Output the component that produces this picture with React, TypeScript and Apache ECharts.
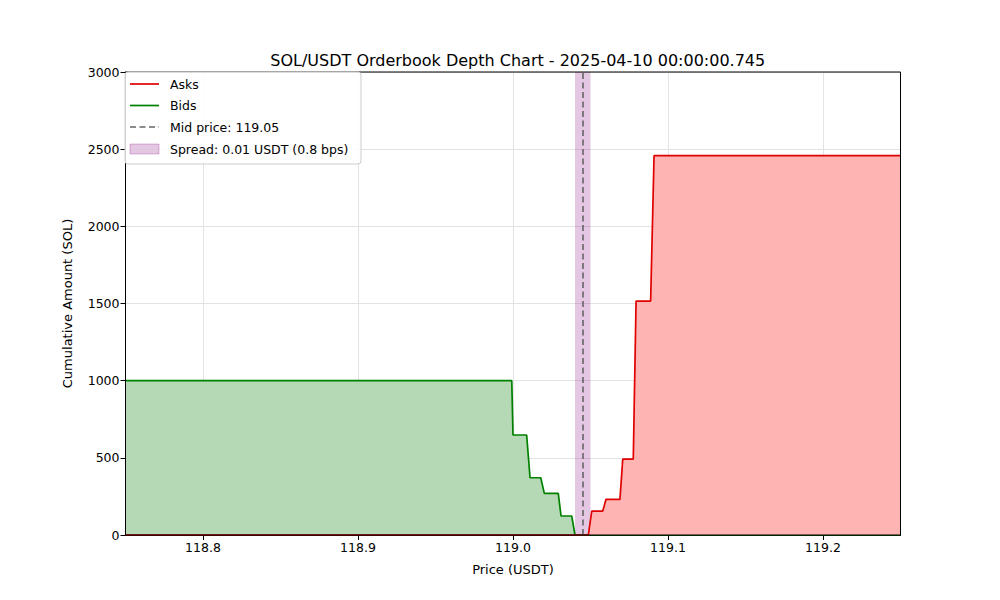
import React, { useEffect, useRef } from "react";
import * as echarts from "echarts";

const bidPrices = [118.75, 118.9992, 119.0, 119.0088, 119.011, 119.0179, 119.0202, 119.0292, 119.031, 119.0379, 119.04, 119.25];
const bidDepth = [1000, 1000, 648, 648, 371, 371, 270, 270, 123, 123, 0, 0];
const askPrices = [118.75, 119.0486, 119.0508, 119.0579, 119.06, 119.069, 119.0708, 119.0776, 119.0794, 119.0888, 119.091, 119.25];
const askDepth = [0, 0, 155, 155, 231, 231, 492, 492, 1516, 1516, 2458, 2458];
const spreadRange = [119.04, 119.05];
const midPrice = 119.045;
const xRange = [118.75, 119.25];
const yRange = [0, 3000];
const legendLabels = ["Asks", "Bids", "Mid price: 119.05", "Spread: 0.01 USDT (0.8 bps)"];
const titleText = "SOL/USDT Orderbook Depth Chart - 2025-04-10 00:00:00.745";

const FONT = "DejaVu Sans";

export default function App() {
  const ref = useRef<HTMLDivElement>(null);
  useEffect(() => {
    if (!ref.current) return;
    const chart = echarts.init(ref.current, null, { renderer: "svg" });
    const bids = bidPrices.map((p, i) => [p, bidDepth[i]]);
    const asks = askPrices.map((p, i) => [p, askDepth[i]]);
    const lx = 130, lx2 = 159, tx = 170;
    const rows = [84, 105.5, 127, 149];
    const Z = 100;
    chart.setOption({
      animation: false,
      backgroundColor: "#fff",
      title: {
        text: titleText,
        left: 512.75,
        textAlign: "center",
        top: 47,
        textStyle: { fontFamily: FONT, fontSize: 16, fontWeight: "normal", color: "#000" },
      },
      grid: { left: 125.5, right: 99.5, top: 72, bottom: 65, show: true, borderColor: "#000", borderWidth: 1, backgroundColor: "transparent", z: 10 },
      xAxis: {
        type: "value",
        min: xRange[0],
        max: xRange[1],
        splitNumber: 5,
        name: "Price (USDT)",
        nameLocation: "middle",
        nameGap: 28,
        nameTextStyle: { fontFamily: FONT, fontSize: 13, color: "#000" },
        axisLine: { show: true, lineStyle: { color: "#000", width: 1 } },
        axisTick: { show: true, inside: false, length: 5, lineStyle: { color: "#000" } },
        axisLabel: { fontFamily: FONT, fontSize: 12.5, color: "#000", margin: 6, showMinLabel: false, showMaxLabel: false, formatter: (v: number) => v.toFixed(1) },
        splitLine: { show: true, lineStyle: { color: "#e3e3e3", width: 1 } },
      },
      yAxis: {
        type: "value",
        min: yRange[0],
        max: yRange[1],
        interval: 500,
        name: "Cumulative Amount (SOL)",
        nameLocation: "middle",
        nameGap: 52,
        nameTextStyle: { fontFamily: FONT, fontSize: 13, color: "#000" },
        axisLine: { show: true, lineStyle: { color: "#000", width: 1 } },
        axisTick: { show: true, inside: false, length: 5, lineStyle: { color: "#000" } },
        axisLabel: { fontFamily: FONT, fontSize: 12.5, color: "#000", margin: 6, formatter: (v: number) => String(v) },
        splitLine: { show: true, lineStyle: { color: "#e3e3e3", width: 1 } },
      },
      series: [
        {
          name: "Bids",
          type: "line",
          data: bids,
          symbol: "none",
          lineStyle: { color: "#008000", width: 1.7 },
          itemStyle: { color: "#008000" },
          areaStyle: { color: "#b2d8b2", opacity: 0.97 },
          z: 2,
        },
        {
          name: "Asks",
          type: "line",
          data: asks,
          symbol: "none",
          lineStyle: { color: "#e00000", width: 1.7 },
          itemStyle: { color: "#e00000" },
          areaStyle: { color: "#ffb2b2", opacity: 0.97 },
          z: 3,
          markArea: {
            silent: true,
            itemStyle: { color: "rgba(128,0,128,0.22)" },
            data: [[{ xAxis: spreadRange[0] }, { xAxis: spreadRange[1] }]],
          },
          markLine: {
            silent: true,
            precision: 4,
            symbol: "none",
            label: { show: false },
            lineStyle: { color: "#5a5a5a", type: [6, 3.5], width: 1.6, opacity: 0.9 },
            data: [{ xAxis: midPrice }],
          },
        },
      ],
      graphic: [
        { type: "rect", z: Z, shape: { x: 125, y: 72, width: 236, height: 92, r: 3 }, style: { fill: "rgba(255,255,255,0.85)", stroke: "#cccccc", lineWidth: 1 } },
        { type: "line", z: Z + 1, shape: { x1: lx, y1: rows[0], x2: lx2, y2: rows[0] }, style: { stroke: "#e00000", lineWidth: 1.7 } },
        { type: "line", z: Z + 1, shape: { x1: lx, y1: rows[1], x2: lx2, y2: rows[1] }, style: { stroke: "#008000", lineWidth: 1.7 } },
        { type: "line", z: Z + 1, shape: { x1: lx, y1: rows[2], x2: lx2, y2: rows[2] }, style: { stroke: "#666", lineWidth: 1.6, lineDash: [6, 3.5] } },
        { type: "rect", z: Z + 1, shape: { x: lx, y: rows[3] - 5, width: 29, height: 10 }, style: { fill: "rgba(128,0,128,0.22)", stroke: "rgba(128,0,128,0.25)", lineWidth: 1 } },
        ...legendLabels.map((t, i) => ({
          type: "text",
          z: Z + 1,
          x: tx,
          y: rows[i],
          style: { text: t, fontFamily: FONT, fontSize: 12.5, fill: "#000", textVerticalAlign: "middle", textAlign: "left" },
        })),
      ],
    });
    return () => chart.dispose();
  }, []);
  return <div ref={ref} style={{ width: 1000, height: 600, position: "absolute", left: 0, top: 0 }} />;
}
